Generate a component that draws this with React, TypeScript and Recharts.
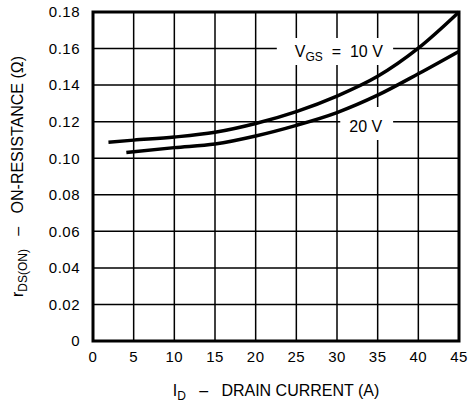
import React from 'react';
import { LineChart, Line, XAxis, YAxis, CartesianGrid, ReferenceArea } from 'recharts';

const xTicks = [0, 5, 10, 15, 20, 25, 30, 35, 40, 45];
const yTicks = [0, 0.02, 0.04, 0.06, 0.08, 0.1, 0.12, 0.14, 0.16, 0.18];

const currentVgs10 = [1.9, 5, 10, 15, 20, 25, 30, 35, 40, 45];
const rdsVgs10 = [0.1088, 0.1099, 0.1116, 0.1142, 0.119, 0.1255, 0.134, 0.1448, 0.1602, 0.18];

const currentVgs20 = [4.1, 10, 15, 20, 25, 30, 35, 40, 45];
const rdsVgs20 = [0.1031, 0.1058, 0.1078, 0.1122, 0.118, 0.125, 0.1345, 0.1462, 0.1585];

const vgs10 = currentVgs10.map((id, i) => ({ id, r: rdsVgs10[i] }));
const vgs20 = currentVgs20.map((id, i) => ({ id, r: rdsVgs20[i] }));

const font = '"Liberation Sans", Arial, Helvetica, sans-serif';

const fmtY = (v: number) => (v === 0 ? '0' : v.toFixed(2));

const XTitle = ({ viewBox }: any) => {
  const cx = viewBox.x + viewBox.width / 2;
  return (
    <text x={cx} y={viewBox.y + 55} textAnchor="middle" fontFamily={font} fontSize={16} fill="#000" style={{ whiteSpace: 'pre' }}>
      I<tspan fontSize={12} dy={4}>D</tspan>
      <tspan dy={-4}>{'   –   DRAIN CURRENT (A)'}</tspan>
    </text>
  );
};

const YTitle = ({ viewBox }: any) => {
  const cy = viewBox.y + viewBox.height / 2;
  const x = viewBox.x + 23;
  return (
    <text x={x} y={cy} transform={`rotate(-90 ${x} ${cy})`} textAnchor="middle" fontFamily={font} fontSize={16} fill="#000" style={{ whiteSpace: 'pre' }}>
      r<tspan fontSize={12} dy={4}>DS(ON)</tspan>
      <tspan dy={-4}>{'   –   ON-RESISTANCE (Ω)'}</tspan>
    </text>
  );
};

const Label10 = ({ viewBox }: any) => (
  <text x={viewBox.x + 18} y={viewBox.y + 19} fontFamily={font} fontSize={16} fill="#000" style={{ whiteSpace: 'pre' }}>
    V<tspan fontSize={12} dy={4}>GS</tspan>
    <tspan dy={-4}>{'  =  10 V'}</tspan>
  </text>
);

const Label20 = ({ viewBox }: any) => (
  <text x={viewBox.x + 9} y={viewBox.y + 25} fontFamily={font} fontSize={16} fill="#000">
    20 V
  </text>
);

export default function App() {
  return (
    <div style={{ position: 'absolute', left: 0, top: 0, background: '#fff' }}>
      <LineChart width={475} height={403} margin={{ top: 12, right: 16, left: 0, bottom: 0 }}>
        <CartesianGrid stroke="#000" strokeWidth={1.5} horizontalValues={yTicks} verticalValues={xTicks} />
        <XAxis
          type="number"
          dataKey="id"
          domain={[0, 45]}
          ticks={xTicks}
          height={62}
          axisLine={false}
          tickLine={false}
          tickMargin={4}
          tick={{ fill: '#000', fontSize: 15, fontFamily: font, letterSpacing: 0.5 }}
          label={XTitle}
        />
        <YAxis
          type="number"
          dataKey="r"
          domain={[0, 0.18]}
          ticks={yTicks}
          width={93}
          axisLine={false}
          tickLine={false}
          tickMargin={7}
          tickFormatter={fmtY}
          tick={{ fill: '#000', fontSize: 15, fontFamily: font, letterSpacing: 0.5 }}
          label={YTitle}
        />
        <ReferenceArea x1={22.6} x2={36.9} y1={0.151} y2={0.1658} fill="#fff" fillOpacity={1} stroke="none" label={Label10} />
        <ReferenceArea x1={30.4} x2={36.9} y1={0.11} y2={0.128} fill="#fff" fillOpacity={1} stroke="none" label={Label20} />
        <ReferenceArea x1={0} x2={45} y1={0} y2={0.18} fill="none" stroke="#000" strokeWidth={3} />
        <Line data={vgs10} dataKey="r" type="monotone" stroke="#000" strokeWidth={3.5} dot={false} isAnimationActive={false} />
        <Line data={vgs20} dataKey="r" type="monotone" stroke="#000" strokeWidth={3.5} dot={false} isAnimationActive={false} />
      </LineChart>
    </div>
  );
}
